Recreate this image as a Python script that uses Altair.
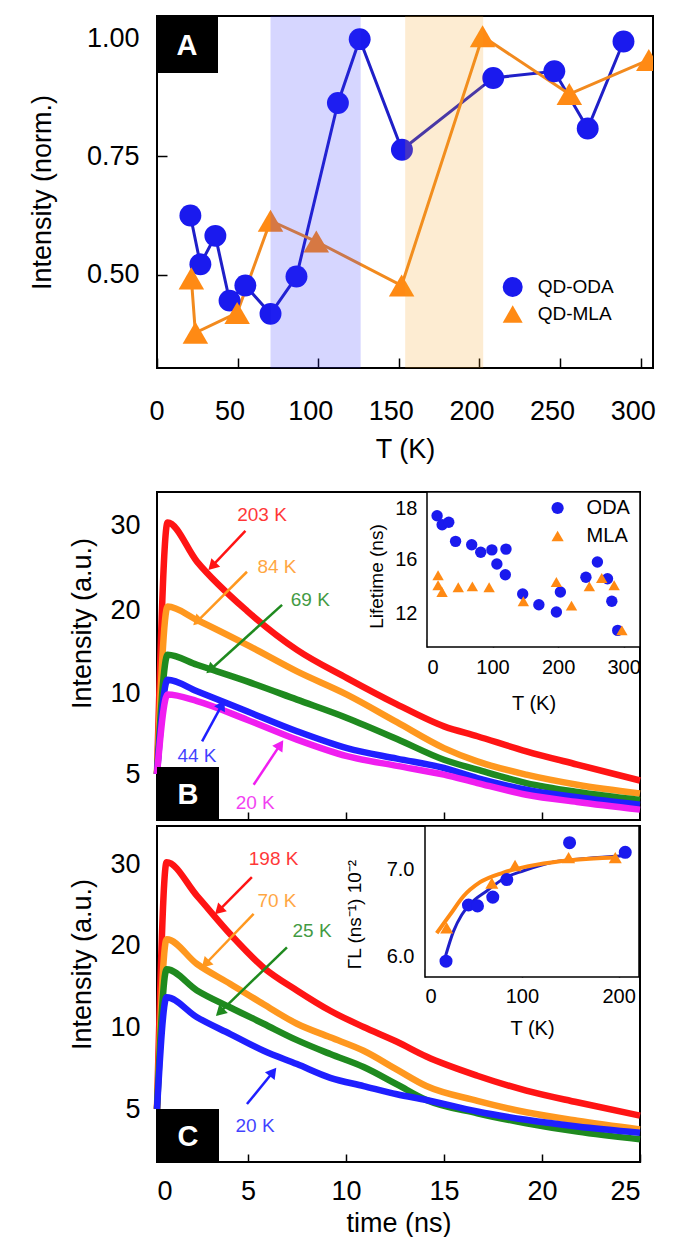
import altair as alt
import pandas as pd

FONT = "Liberation Sans"
BLUE = "#1a1aee"
BLUE_LINE = "#1f1fc8"
ORANGE = "#ff8a14"
ORANGE_LINE = "#f28a1e"

# ================= Panel A : normalised intensity vs T =================
A_oda_T = [20.7, 26.9, 36.2, 45.0, 54.8, 70.4, 86.5, 112.2, 125.7, 151.9, 208.5, 246.4, 267.1, 289.3]
A_oda_I = [0.625, 0.522, 0.582, 0.445, 0.477, 0.417, 0.496, 0.863, 0.998, 0.764, 0.916, 0.930, 0.809, 0.993]
A_mla_T = [21.3, 23.8, 49.7, 70.4, 98.8, 151.7, 201.9, 255.7, 305.0]
A_mla_I = [0.492, 0.377, 0.419, 0.614, 0.570, 0.477, 1.004, 0.882, 0.954]
A_band_lo = [70.4, 153.9]
A_band_hi = [126.3, 202.3]
A_band_id = ["ODA", "MLA"]
A_xticks = [0, 50, 100, 150, 200, 250, 300]
A_yticks = [0.5, 0.75, 1.0]

# ================= Panel B : decays + lifetime inset =================
B_time = [0.36, 0.9, 2.4, 4.95, 7.5, 10.05, 12.6, 15.0, 16.7, 19.2, 21.8, 25.0]
B_temps = ["203 K", "84 K", "69 K", "44 K", "20 K"]
B_colors = ["#ff1414", "#ff981f", "#1f8a1f", "#1f1fff", "#f01ef0"]
B_203 = [5.0, 30.3, 25.7, 19.9, 15.2, 11.8, 9.3, 7.94, 7.33, 6.4, 5.58, 4.6]
B_84 = [5.0, 20.4, 18.8, 15.8, 12.6, 9.9, 8.2, 6.6, 5.78, 4.96, 4.34, 3.8]
B_69 = [5.0, 14.6, 13.4, 11.4, 9.59, 8.46, 7.16, 5.88, 5.27, 4.44, 3.89, 3.4]
B_44 = [5.0, 11.6, 10.2, 8.87, 7.64, 6.6, 5.95, 5.37, 4.75, 4.03, 3.56, 3.1]
B_20 = [5.0, 9.9, 9.5, 8.35, 7.12, 6.1, 5.5, 4.96, 4.44, 3.72, 3.27, 2.8]
B_yticks = [5, 10, 20, 30]
# curve labels and arrows (data units: ns, a.u.)
B_lab_t = [5.72, 6.48, 8.18, 2.40, 5.37]
B_lab_v = [31.2, 25.1, 21.2, 6.09, 3.21]
B_arr_t0 = [4.87, 4.95, 6.74, 2.66, 5.29]
B_arr_v0 = [29.3, 24.5, 20.6, 7.02, 4.34]
B_arr_t1 = [3.17, 2.40, 3.08, 3.68, 6.65]
B_arr_v1 = [25.15, 18.6, 12.8, 9.28, 6.81]
B_arr_ang = [224, 225, 228, 29, 34]

# inset B : lifetime vs T
IB_oda_T = [15.4, 23.1, 33.2, 43.6, 68.2, 82.0, 99.0, 106.6, 120.5, 119.5, 146.0, 170.7, 197.4, 203.5, 242.5, 260.0, 275.4, 282.0, 291.0]
IB_oda_v = [17.70, 17.35, 17.45, 16.71, 16.58, 16.29, 16.38, 15.68, 16.41, 14.87, 13.43, 12.62, 12.08, 13.58, 14.68, 15.83, 14.57, 12.88, 10.67]
IB_mla_T = [16.9, 16.9, 23.0, 47.7, 69.2, 94.8, 147.0, 197.4, 220.5, 247.7, 266.6, 285.5, 297.4]
IB_mla_v = [14.83, 14.08, 13.58, 13.93, 14.00, 13.93, 12.88, 14.33, 12.55, 14.00, 14.63, 14.08, 10.67]
IB_xticks = [0, 100, 200, 300]
IB_yticks = [12, 16, 18]

# ================= Panel C : decays + rate inset =================
C_time = [0.36, 0.85, 2.4, 4.1, 5.8, 7.5, 9.2, 10.9, 12.6, 14.1, 16.7, 19.2, 21.8, 25.0]
C_temps = ["198 K", "70 K", "25 K", "20 K"]
C_colors = ["#ff1414", "#ff981f", "#1f8a1f", "#1f1fff"]
C_198 = [5.0, 30.2, 26.1, 21.4, 17.3, 14.5, 12.0, 10.0, 9.1, 8.2, 7.03, 6.12, 5.41, 4.6]
C_70 = [5.0, 20.8, 17.75, 15.3, 12.8, 10.4, 9.37, 8.55, 7.4, 6.4, 5.5, 4.8, 4.28, 3.75]
C_25 = [5.0, 17.1, 14.5, 12.4, 10.4, 9.2, 8.35, 7.56, 6.5, 5.55, 4.74, 4.13, 3.62, 3.15]
C_20 = [5.0, 13.65, 11.2, 9.57, 8.55, 7.74, 6.9, 6.4, 5.9, 5.55, 4.85, 4.34, 3.93, 3.55]
C_xticks = [0.36, 5, 10, 15, 20, 25]
C_lab_t = [6.31, 6.48, 8.27, 5.36]
C_lab_v = [30.6, 25.5, 21.8, 3.96]
C_arr_t0 = [5.20, 5.29, 6.99, 4.95]
C_arr_v0 = [28.4, 23.9, 19.8, 5.3]
C_arr_t1 = [3.51, 2.83, 3.56, 6.28]
C_arr_v1 = [24.3, 17.75, 11.8, 7.26]
C_arr_ang = [225, 224, 226, 38]

# inset C : Gamma_L vs T
IC_oda_T = [21.7, 44.9, 54.2, 70.0, 84.5, 149.3, 206.8]
IC_oda_v = [5.95, 6.59, 6.58, 6.68, 6.88, 7.30, 7.19]
IC_mla_T = [22.4, 69.0, 93.0, 148.3, 196.5]
IC_mla_v = [6.33, 6.84, 7.04, 7.13, 7.13]
IC_odafit_T = [20.7, 29.4, 38.0, 46.5, 63.8, 81.0, 101.8, 132.8, 167.0, 205.0]
IC_odafit_v = [5.99, 6.29, 6.48, 6.60, 6.75, 6.89, 6.98, 7.08, 7.12, 7.15]
IC_mlafit_T = [12.1, 25.9, 39.7, 56.9, 81.0, 115.5, 150.0, 198.0]
IC_mlafit_v = [6.27, 6.48, 6.69, 6.85, 6.96, 7.05, 7.10, 7.13]
IC_xticks = [0, 100, 200]
IC_yticks = [6.0, 7.0]

one = pd.DataFrame({"k": [0]})

# ---------------------------------------------------------------- Panel A
A_W, A_H = 496, 352
A_xdom = [0, 307.6]
A_ydom = [0.3025, 1.047]


def xA(field):
    return alt.X(field, type="quantitative",
                 scale=alt.Scale(domain=A_xdom, nice=False, zero=False),
                 axis=alt.Axis(orient="bottom", values=A_xticks, tickSize=10, offset=-10,
                               domain=False, labelPadding=30, labelFontSize=27, labelOffset=-8,
                               title="T (K)", titleFontSize=27, titlePadding=12))


yA = alt.Y("I:Q", scale=alt.Scale(domain=A_ydom, nice=False, zero=False),
           axis=alt.Axis(orient="left", values=A_yticks, format=".2f", tickSize=10, offset=-10,
                         domain=False, labelPadding=18, labelFontSize=27,
                         title="Intensity (norm.)", titleFontSize=27, titlePadding=30))

dfA_oda = pd.DataFrame({"T": A_oda_T, "I": A_oda_I, "s": "QD-ODA"})
dfA_mla = pd.DataFrame({"T": A_mla_T, "I": A_mla_I, "s": "QD-MLA"})
dfA_band = pd.DataFrame({"lo": A_band_lo, "hi": A_band_hi, "b": A_band_id})
sdomA = ["QD-ODA", "QD-MLA"]
legA = alt.Legend(title=None, orient="none", legendX=345.7, legendY=261, symbolSize=400,
                  labelFontSize=19, labelOffset=15, rowPadding=7, symbolStrokeWidth=0,
                  labelFont=FONT, labelColor="black")
colA = alt.Color("s:N", scale=alt.Scale(domain=sdomA, range=[BLUE, ORANGE]), legend=legA)
shpA = alt.Shape("s:N", scale=alt.Scale(domain=sdomA, range=["circle", "triangle-up"]), legend=legA)

lineA_oda = alt.Chart(dfA_oda).mark_line(color=BLUE_LINE, strokeWidth=3).encode(x=xA("T"), y=yA)
lineA_mla = alt.Chart(dfA_mla).mark_line(color=ORANGE_LINE, strokeWidth=3).encode(x=xA("T"), y=yA)
ptA_oda = alt.Chart(dfA_oda).mark_point(filled=True, size=480, opacity=1, clip=True).encode(
    x=xA("T"), y=yA, color=colA, shape=shpA)
ptA_mla = alt.Chart(dfA_mla).mark_point(filled=True, size=650, opacity=1, clip=True).encode(
    x=xA("T"), y=yA, color=colA, shape=shpA)
bandA = alt.Chart(dfA_band).mark_rect(opacity=0.2).encode(
    x=xA("lo"), x2="hi:Q", y=alt.value(0), y2=alt.value(A_H),
    fill=alt.Fill("b:N", scale=alt.Scale(domain=["ODA", "MLA"], range=["#3030ff", "#f5a020"]), legend=None))
boxA = alt.Chart(one).mark_rect(color="black").encode(
    x=alt.value(0), x2=alt.value(61), y=alt.value(0), y2=alt.value(57))
letA = alt.Chart(one).mark_text(text="A", font=FONT, fontSize=29, fontWeight="bold", color="white").encode(
    x=alt.value(30), y=alt.value(30))

panelA = alt.layer(lineA_oda, lineA_mla, ptA_oda, ptA_mla, bandA, boxA, letA).properties(width=A_W, height=A_H)

# ---------------------------------------------------------------- helpers for B / C


def decay_df(times, temps, series):
    rows = []
    for temp, vals in zip(temps, series):
        for t, v in zip(times, vals):
            rows.append({"t": t, "v": v, "temp": temp})
    return pd.DataFrame(rows)


def main_panel(W, H, ydom, yrange, yticks, xticks, show_labels, times, temps, colors, series,
               lab_t, lab_v, t0, v0, t1, v1, ang, letter, title_y):
    xdom = [0.36, 25]

    def X(field):
        if show_labels:
            ax = alt.Axis(orient="bottom", values=xticks, tickSize=8, offset=-8, domain=False,
                          labelPadding=16, labelFontSize=27,
                          labelExpr="datum.value < 1 ? '0' : datum.label",
                          title="time (ns)", titleFontSize=27, titlePadding=6)
        else:
            ax = alt.Axis(orient="bottom", values=xticks, tickSize=8, offset=-8, domain=False,
                          labels=False, title=None)
        return alt.X(field, type="quantitative", scale=alt.Scale(domain=xdom, nice=False, zero=False), axis=ax)

    def Y(field):
        return alt.Y(field, type="quantitative",
                     scale=alt.Scale(domain=ydom, range=yrange, nice=False, zero=False),
                     axis=alt.Axis(orient="left", values=yticks, ticks=False, domain=False,
                                   labelPadding=17, labelFontSize=27, title="Intensity (a.u.)",
                                   titleFontSize=27, titlePadding=13, titleY=title_y))

    col = alt.Color("temp:N", scale=alt.Scale(domain=temps, range=colors), legend=None)
    dfc = decay_df(times, temps, series)
    dfa = pd.DataFrame({"lt": lab_t, "lv": lab_v, "t0": t0, "v0": v0, "t1": t1, "v1": v1,
                        "ang": ang, "temp": temps})
    curves = alt.Chart(dfc).mark_line(strokeWidth=6.5, interpolate="monotone").encode(
        x=X("t"), y=Y("v"), color=col)
    rules = alt.Chart(dfa).mark_rule(strokeWidth=2.5).encode(
        x=X("t0"), y=Y("v0"), x2="t1:Q", y2="v1:Q", color=col)
    heads = alt.Chart(dfa).mark_point(shape="triangle-up", filled=True, size=150, opacity=1).encode(
        x=X("t1"), y=Y("v1"), angle=alt.Angle("ang:Q", scale=None), color=col)
    texts = alt.Chart(dfa).mark_text(font=FONT, fontSize=19, align="center", baseline="middle", opacity=0.85).encode(
        x=X("lt"), y=Y("lv"), text="temp:N", color=col)
    box = alt.Chart(one).mark_rect(color="black").encode(
        x=alt.value(0), x2=alt.value(62), y=alt.value(H - 53), y2=alt.value(H))
    let = alt.Chart(one).mark_text(text=letter, font=FONT, fontSize=29, fontWeight="bold", color="white").encode(
        x=alt.value(31), y=alt.value(H - 25))
    return alt.layer(curves, rules, heads, texts, box, let)


# ---------------------------------------------------------------- Panel B
B_W, B_H = 483, 328
mainB = main_panel(B_W, B_H, [2.16, 5, 10, 20, 30, 33.9], [328, 282, 201, 118, 33, 0], B_yticks,
                   [5, 10, 15, 20], False, B_time, B_temps, B_colors, [B_203, B_84, B_69, B_44, B_20],
                   B_lab_t, B_lab_v, B_arr_t0, B_arr_v0, B_arr_t1, B_arr_v1, B_arr_ang, "B", 131)

IB_xdom = [0, 325]
IB_ydom = [9.4, 12, 16, 18, 18.62]


def XIB(field):
    return alt.X(field, type="quantitative",
                 scale=alt.Scale(domain=IB_xdom, range=[270, 483], nice=False, zero=False),
                 axis=alt.Axis(orient="bottom", offset=-181, values=IB_xticks, tickSize=8, domain=False,
                               labelPadding=10, labelFontSize=20, title="T (K)", titleFontSize=20,
                               titlePadding=16))


def YIB(field):
    return alt.Y(field, type="quantitative",
                 scale=alt.Scale(domain=IB_ydom, range=[155, 121, 67.7, 16, 0], nice=False, zero=False),
                 axis=alt.Axis(orient="left", offset=-278, values=IB_yticks, tickSize=8, domain=False,
                               labelPadding=10, labelFontSize=20, title="Lifetime (ns)",
                               titleFontSize=19, titlePadding=8, titleY=84))


dfIB = pd.concat([pd.DataFrame({"T": IB_oda_T, "v": IB_oda_v, "s": "ODA"}),
                  pd.DataFrame({"T": IB_mla_T, "v": IB_mla_v, "s": "MLA"})])
frameIB = pd.DataFrame({"x0": [IB_xdom[0]], "x1": [IB_xdom[1]], "y0": [IB_ydom[0]], "y1": [IB_ydom[-1]]})
legIB = alt.Legend(title=None, orient="none", legendX=390.6, legendY=6, symbolSize=150,
                   labelFontSize=20, labelOffset=19, rowPadding=8, symbolStrokeWidth=0,
                   labelFont=FONT, labelColor="black")
colIB = alt.Color("s:N", scale=alt.Scale(domain=["ODA", "MLA"], range=[BLUE, ORANGE]), legend=legIB)
shpIB = alt.Shape("s:N", scale=alt.Scale(domain=["ODA", "MLA"], range=["circle", "triangle-up"]), legend=legIB)
rectIB = alt.Chart(frameIB).mark_rect(fill="white", stroke="black", strokeWidth=1.5).encode(
    x=XIB("x0"), x2="x1:Q", y=YIB("y0"), y2="y1:Q")
ptsIB = alt.Chart(dfIB).mark_point(filled=True, size=130, opacity=1).encode(
    x=XIB("T"), y=YIB("v"), color=colIB, shape=shpIB)
insetB = alt.layer(rectIB, ptsIB)

panelB = alt.layer(mainB, insetB).resolve_scale(
    x="independent", y="independent", color="independent", shape="independent"
).properties(width=B_W, height=B_H)

# ---------------------------------------------------------------- Panel C
C_W, C_H = 483, 336
mainC = main_panel(C_W, C_H, [1.77, 5, 10, 20, 30, 34.65], [336, 283, 201, 119.7, 38, 0], B_yticks,
                   C_xticks, True, C_time, C_temps, C_colors, [C_198, C_70, C_25, C_20],
                   C_lab_t, C_lab_v, C_arr_t0, C_arr_v0, C_arr_t1, C_arr_v1, C_arr_ang, "C", 138)

IC_xdom = [0, 221]
IC_ydom = [5.77, 7.49]


def XIC(field):
    return alt.X(field, type="quantitative",
                 scale=alt.Scale(domain=IC_xdom, range=[268, 482], nice=False, zero=False),
                 axis=alt.Axis(orient="bottom", offset=-193, values=IC_xticks, tickSize=8, domain=False,
                               labelPadding=9, labelFontSize=20, title="T (K)", titleFontSize=20,
                               titlePadding=12))


def YIC(field):
    return alt.Y(field, type="quantitative",
                 scale=alt.Scale(domain=IC_ydom, range=[151, 0], nice=False, zero=False),
                 axis=alt.Axis(orient="left", offset=-276, values=IC_yticks, format=".1f", tickSize=8,
                               domain=False, labelPadding=11, labelFontSize=20,
                               title="ΓL (ns⁻¹) 10⁻²", titleFontSize=19, titlePadding=22, titleY=88))


frameIC = pd.DataFrame({"x0": [IC_xdom[0]], "x1": [IC_xdom[1]], "y0": [IC_ydom[0]], "y1": [IC_ydom[1]]})
dfIC = pd.concat([pd.DataFrame({"T": IC_oda_T, "v": IC_oda_v, "s": "ODA"}),
                  pd.DataFrame({"T": IC_mla_T, "v": IC_mla_v, "s": "MLA"})])
dfIC_of = pd.DataFrame({"T": IC_odafit_T, "v": IC_odafit_v})
dfIC_mf = pd.DataFrame({"T": IC_mlafit_T, "v": IC_mlafit_v})
colIC = alt.Color("s:N", scale=alt.Scale(domain=["ODA", "MLA"], range=[BLUE, ORANGE]), legend=None)
shpIC = alt.Shape("s:N", scale=alt.Scale(domain=["ODA", "MLA"], range=["circle", "triangle-up"]), legend=None)
rectIC = alt.Chart(frameIC).mark_rect(fill="white", stroke="black", strokeWidth=1.5).encode(
    x=XIC("x0"), x2="x1:Q", y=YIC("y0"), y2="y1:Q")
fitO = alt.Chart(dfIC_of).mark_line(color=BLUE_LINE, strokeWidth=3, interpolate="monotone").encode(x=XIC("T"), y=YIC("v"))
fitM = alt.Chart(dfIC_mf).mark_line(color=ORANGE, strokeWidth=4, interpolate="monotone").encode(x=XIC("T"), y=YIC("v"))
ptsIC = alt.Chart(dfIC).mark_point(filled=True, size=170, opacity=1).encode(
    x=XIC("T"), y=YIC("v"), color=colIC, shape=shpIC)
insetC = alt.layer(rectIC, fitO, fitM, ptsIC)

panelC = alt.layer(mainC, insetC).resolve_scale(
    x="independent", y="independent", color="independent", shape="independent").properties(width=C_W, height=C_H)

# ---------------------------------------------------------------- assemble
bc = alt.vconcat(panelB, panelC, spacing=0).resolve_scale(
    color="independent", shape="independent", fill="independent")
chart = alt.vconcat(panelA, bc, spacing=27).resolve_scale(
    color="independent", shape="independent", fill="independent"
).properties(
    padding={"left": 27, "top": 15, "right": 5, "bottom": 0}, background="white"
).configure(font=FONT).configure_axis(
    labelFont=FONT, titleFont=FONT, labelColor="black", titleColor="black", tickColor="black",
    tickWidth=1.5, titleFontWeight="normal", grid=False
).configure_view(stroke="black", strokeWidth=2).configure_legend(labelFont=FONT)

chart.save("out.html", embed_options={"renderer": "svg", "actions": False})
